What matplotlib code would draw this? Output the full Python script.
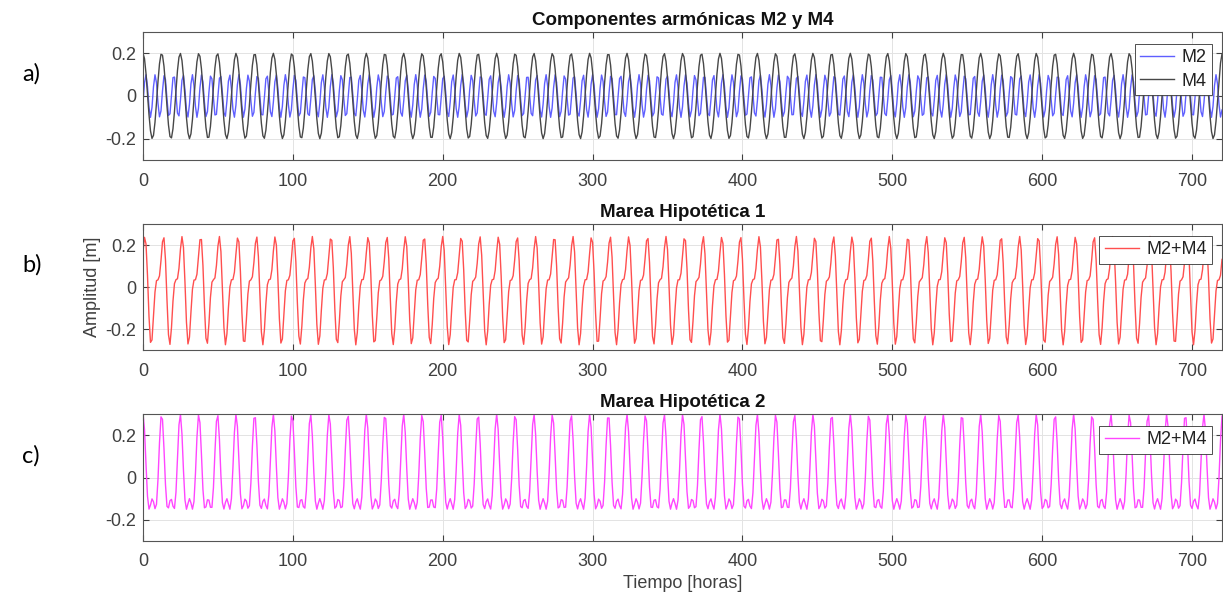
import numpy as np
import matplotlib
matplotlib.use("Agg")
import matplotlib.pyplot as plt

plt.rcParams['font.family'] = ['Liberation Sans', 'DejaVu Sans']

# tiempo en horas, muestreo horario durante 30 dias
tiempo = np.arange(0, 721, 1)

# constituyentes
periodo_m2 = 12.42   # horas
periodo_m4 = 6.21    # horas
amp_m2 = 0.2         # m
amp_m4 = 0.1         # m
fase_m4_marea1 = 110.0   # grados, marea hipotetica 1 (asimetrica)
fase_m4_marea2 = 0.0     # grados, marea hipotetica 2

titulos = ['Componentes armónicas M2 y M4', 'Marea Hipotética 1', 'Marea Hipotética 2']
etiquetas_panel = ['a)', 'b)', 'c)']
xticks = [0, 100, 200, 300, 400, 500, 600, 700]
yticks = [-0.2, 0, 0.2]
ytick_labels = ['-0.2', '0', '0.2']


def armonico(t, amp, periodo, fase_grados=0.0):
    return amp * np.cos(2 * np.pi * t / periodo - np.deg2rad(fase_grados))


m2 = armonico(tiempo, amp_m2, periodo_m2)
m4 = armonico(tiempo, amp_m4, periodo_m4, fase_m4_marea1)
marea1 = m2 + m4
marea2 = m2 + armonico(tiempo, amp_m4, periodo_m4, fase_m4_marea2)

W, H = 1223, 599
fig = plt.figure(figsize=(W / 100, H / 100), dpi=100)

# posiciones de los ejes en pixeles (izq, der, arriba, abajo)
cajas = [(143, 1222, 32, 160), (143, 1222, 224, 350), (143, 1222, 414, 541)]
ejes = []
for (x0, x1, y0, y1) in cajas:
    ax = fig.add_axes([x0 / W, 1 - y1 / H, (x1 - x0) / W, (y1 - y0) / H])
    ejes.append(ax)

gris = '#404040'

ax = ejes[0]
ax.plot(tiempo, m4, color='#5f5fff', lw=1.0, label='M2')
ax.plot(tiempo, m2, color='#474747', lw=1.0, label='M4')
ejes[1].plot(tiempo, marea1, color='#ff4f4f', lw=1.0, label='M2+M4')
ejes[2].plot(tiempo, marea2, color='#ff45ff', lw=1.0, label='M2+M4')

for i, ax in enumerate(ejes):
    ax.set_xlim(0, 720)
    ax.set_ylim(-0.3, 0.3)
    ax.set_xticks(xticks)
    ax.set_yticks(yticks)
    ax.set_yticklabels(ytick_labels)
    ax.grid(True, color='#e3e3e3', lw=0.7)
    ax.set_axisbelow(True)
    ax.tick_params(direction='in', length=4, width=0.8, top=True, right=True,
                   colors=gris, labelsize=13)
    ax.tick_params(axis='x', pad=9)
    ax.tick_params(axis='y', pad=5)
    for s in ax.spines.values():
        s.set_color('#555555')
        s.set_linewidth(0.8)
    ax.set_title(titulos[i], fontsize=13.5, fontweight='bold', color='#111111', pad=5)
    leg = ax.legend(loc='upper right', bbox_to_anchor=(1 - 10 / 1079, 1 - 12 / 128),
                    borderaxespad=0, fontsize=13, fancybox=False, framealpha=1,
                    edgecolor='#333333', handlelength=1.9, borderpad=0.3,
                    labelspacing=0.35, handletextpad=0.4)
    leg.get_frame().set_linewidth(0.6)
    for txt in leg.get_texts():
        txt.set_color('#222222')
    # etiqueta del panel
    yc = 1 - ((cajas[i][2] + cajas[i][3]) / 2 - 22) / H
    fig.text(22 / W, yc, etiquetas_panel[i], fontsize=17, family='Lato',
             ha='left', va='center', color='black')

ejes[1].set_ylabel('Amplitud [m]', fontsize=13, color=gris, labelpad=3)
ejes[2].set_xlabel('Tiempo [horas]', fontsize=13, color=gris, labelpad=3)

fig.savefig('out.png', dpi=100)
